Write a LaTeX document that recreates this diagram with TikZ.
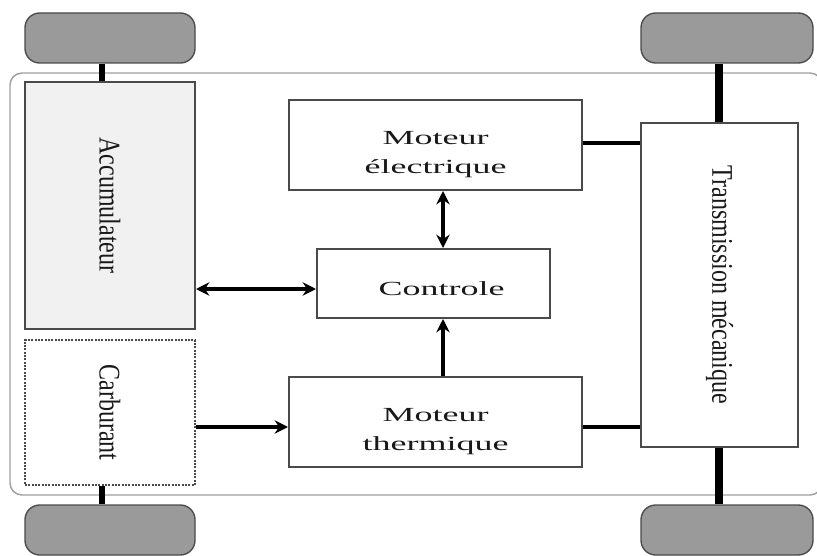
\documentclass[tikz,border=0pt]{standalone}
\usepackage{fontspec}
\setmainfont{Liberation Serif}
\usetikzlibrary{arrows.meta,fit}
\newcommand\mywide[1]{\scalebox{1.8}[1]{#1}}
\newcommand\mytall[1]{\rotatebox{-90}{\scalebox{1}[1.25]{#1}}}
\definecolor{wheelgray}{HTML}{9A9A9A}
\definecolor{accgray}{HTML}{F1F1F1}
\definecolor{edgegray}{HTML}{4A4A4A}
\begin{document}
\begin{tikzpicture}[x=0.75pt,y=-0.75pt,
  >={Stealth[length=10pt,width=10pt]},
  wheel/.style={draw=edgegray, fill=wheelgray, line width=1pt, rounded corners=11pt, inner sep=0pt},
  blockbox/.style={draw=edgegray, fill=white, line width=1.5pt, inner sep=0pt},
  outerframe/.style={draw=gray!75, line width=1.1pt, rounded corners=9pt},
  conn/.style={draw=black, line width=3.5pt},
  axleL/.style={draw=black, line width=4.5pt},
  axleR/.style={draw=black, line width=6pt},
  htext/.style={font=\fontsize{15}{22}\selectfont, align=center, text=black!90},
  vtext/.style={font=\fontsize{18}{20}\selectfont, text=black!90}
]
\useasboundingbox (0,0) rectangle (817,556);
% outer frame
\draw[outerframe] (10,73) rectangle (822,495);
% wheels
\node[wheel, fit={(25,13) (195,63)}] (wTL) {};
\node[wheel, fit={(25,505) (195,555)}] (wBL) {};
\node[wheel, fit={(641,13) (813,63)}] (wTR) {};
\node[wheel, fit={(641,505) (813,555)}] (wBR) {};
% blocks
\node[blockbox, fill=accgray, fit={(25,82) (195,329)}, vtext] (acc) {\mytall{Accumulateur}};
\node[blockbox, draw=edgegray, densely dotted, fit={(25,340) (195,485)}, vtext] (carb) {\mytall{Carburant}};
\node[blockbox, fit={(289,100) (582,190)},
  label={[htext, yshift=-7pt]center:{\mywide{Moteur}\\\mywide{électrique}}}] (motE) {};
\node[blockbox, fit={(317,249) (550,318)},
  label={[htext, yshift=-3.5pt, xshift=6pt]center:{\mywide{Controle}}}] (ctrl) {};
\node[blockbox, fit={(289,377) (582,467)},
  label={[htext, yshift=-7pt]center:{\mywide{Moteur}\\\mywide{thermique}}}] (motT) {};
\node[blockbox, fit={(641,123) (798,447)}, vtext] (trans) {\mytall{Transmission mécanique}};
% helper coordinates
\coordinate (ax) at (443,0);
\coordinate (xL) at (102,0);
\coordinate (xR) at (719,0);
\coordinate (yA) at (0,289);
\coordinate (yT) at (0,427);
\coordinate (yE) at (0,143);
% axles
\draw[axleL] (wTL.south -| xL) -- (acc.north -| xL);
\draw[axleL] (carb.south -| xL) -- (wBL.north -| xL);
\draw[axleR] (wTR.south -| xR) -- (trans.north -| xR);
\draw[axleR] (trans.south -| xR) -- (wBR.north -| xR);
% connectors
\draw[conn, <->] (motE.south -| ax) -- (ctrl.north -| ax);
\draw[conn, ->] (motT.north -| ax) -- (ctrl.south -| ax);
\draw[conn, <->] (acc.east |- yA) -- (ctrl.west |- yA);
\draw[conn, ->] (carb.east |- yT) -- (motT.west |- yT);
\draw[conn] (motE.east |- yE) -- (trans.west |- yE);
\draw[conn] (motT.east |- yT) -- (trans.west |- yT);
\end{tikzpicture}
\end{document}
